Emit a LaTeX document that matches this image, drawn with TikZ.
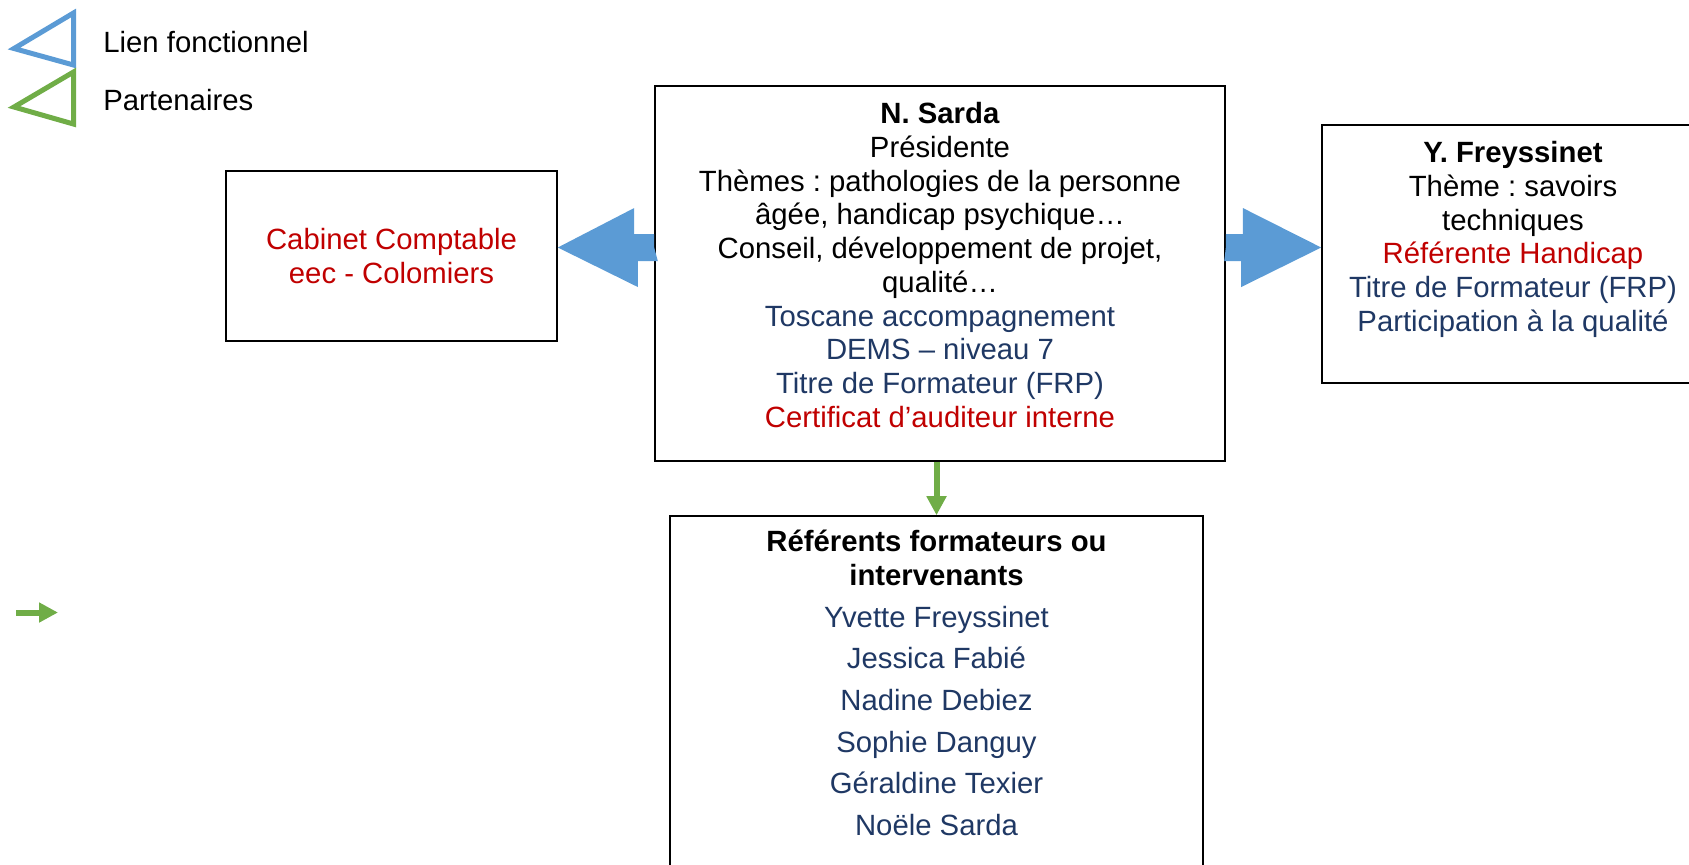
\documentclass[tikz,border=0pt]{standalone}
\usepackage{fontspec}
\setmainfont{Liberation Sans}
\usetikzlibrary{positioning,arrows.meta}
\frenchspacing

\definecolor{lienblue}{HTML}{5B9BD5}
\definecolor{partgreen}{HTML}{70AD47}
\definecolor{txtred}{HTML}{C00000}
\definecolor{txtnavy}{HTML}{1F3864}
\newcommand\txtsize{\fontsize{14.65pt}{16.85pt}\selectfont}

\tikzset{
    box/.style={draw, line width=0.8pt},
    txt/.style={align=center, inner sep=0pt, font=\txtsize},
    fonct/.style={fill=lienblue},
    partner/.style={draw=partgreen, line width=3pt, -{Triangle[width=9.5pt,length=9.5pt]}}
}

\begin{document}
\begin{tikzpicture}[x=0.5pt, y=-0.5pt]
        \useasboundingbox (0,0) rectangle (1689,864);
        % legend
        \draw[lienblue, line width=2.5pt] (14,48.5) -- (73.5,13) -- (73.5,65) -- cycle;
        \draw[partgreen, line width=2.5pt] (14,107) -- (73.5,72) -- (73.5,124) -- cycle;
        \node[txt, anchor=base west] (lienleg) at (103,52) {Lien fonctionnel};
        \node[txt, anchor=base west] (partleg) at (103,110) {Partenaires};
        \draw[partner] (16,612.5) -- (58,612.5);

        % boxes
        \node[box, minimum width=165.5pt, minimum height=85pt, txt, text=txtred] (cabinet) at (391.5,256) {Cabinet Comptable\\eec - Colomiers};
        \node[box, minimum width=285pt, minimum height=187.5pt] (sarda) at (940,273.5) {};
        \node[box, minimum width=191pt, minimum height=129pt] (freyss) at (1513,254) {};
        \node[box, minimum width=266.5pt, minimum height=182pt] (refs) at (936.5,698) {};

        \node[txt, below=8.5pt of sarda.north] (sardatxt) {\textbf{N. Sarda}\\Présidente\\Thèmes : pathologies de la personne\\âgée, handicap psychique…\\Conseil, développement de projet,\\qualité…\\
            \textcolor{txtnavy}{Toscane accompagnement}\\\textcolor{txtnavy}{DEMS – niveau 7}\\\textcolor{txtnavy}{Titre de Formateur (FRP)}\\\textcolor{txtred}{Certificat d’auditeur interne}};
        \node[txt, below=8.5pt of freyss.north] (freysstxt) {\textbf{Y. Freyssinet}\\Thème : savoirs\\techniques\\\textcolor{txtred}{Référente Handicap}\\
            \textcolor{txtnavy}{Titre de Formateur (FRP)}\\\textcolor{txtnavy}{Participation à la qualité}};
        \node[txt, below=7.25pt of refs.north] (refstxt) {\textbf{Référents formateurs ou}\\\textbf{intervenants}\\[4pt]
            \textcolor{txtnavy}{Yvette Freyssinet}\\[4pt]\textcolor{txtnavy}{Jessica Fabié}\\[4pt]\textcolor{txtnavy}{Nadine Debiez}\\[4pt]
            \textcolor{txtnavy}{Sophie Danguy}\\[4pt]\textcolor{txtnavy}{Géraldine Texier}\\[4pt]\textcolor{txtnavy}{Noële Sarda}};

        % links
        \coordinate (lienL) at (sarda.west |- 0,247.5);
        \coordinate (lienR) at (sarda.east |- 0,247.5);
        \fill[fonct] (lienL) -- ++(0,-13.5) -- ++(-20,0) -- ++(0,-26) -- (cabinet.east |- lienL) -- ++(80,39.5) -- ++(0,-26) -- ++(20,0) -- cycle;
        \fill[fonct] (lienR) -- ++(0,-13.5) -- ++(17,0) -- ++(0,-26) -- (freyss.west |- lienR) -- ++(-80,39.5) -- ++(0,-26) -- ++(-17,0) -- cycle;
        \draw[partner] (refs.north |- sarda.south) -- (refs.north);
    \end{tikzpicture}
\end{document}
